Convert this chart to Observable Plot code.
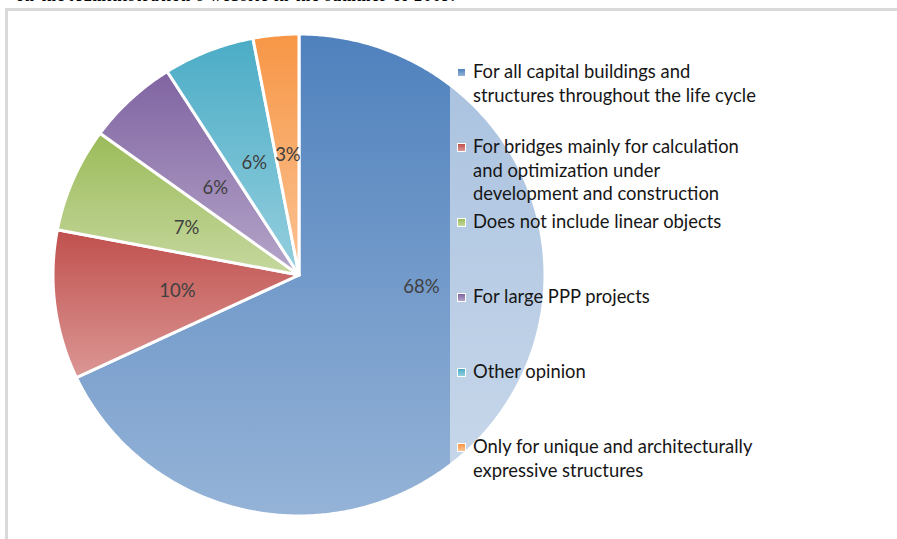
<!DOCTYPE html>
<html>
<head>
<meta charset="utf-8">
<script src="https://cdn.jsdelivr.net/npm/d3@7"></script>
<script src="https://cdn.jsdelivr.net/npm/@observablehq/plot@0.6"></script>
<style>
  html, body { margin: 0; padding: 0; background: #fff; }
  #wrap { position: relative; width: 897px; height: 539px; overflow: hidden; font-family: Lato, "Open Sans", sans-serif; }
  #cut { position: absolute; left: 0; top: 0; width: 456px; height: 4px; overflow: hidden; }
  #cut span { position: absolute; right: 0; top: -13px; white-space: nowrap; font: bold 16px "Liberation Serif", serif; color: #000; letter-spacing: 1.2px; }
  #frame { position: absolute; left: 5px; top: 8px; width: 1000px; height: 1000px; border-left: 3px solid #d9d9d9; border-top: 3px solid #d9d9d9; }
  #chart { position: absolute; left: 0; top: 0; }
  #legend { position: absolute; left: 450px; top: 52px; width: 330px; height: 440px; background: rgba(255,255,255,0.5); }
  .item { position: absolute; left: 23px; font-size: 18.4px; line-height: 23.5px; color: #161616; white-space: nowrap; }
  .sw { position: absolute; left: 8px; width: 7px; height: 7px; outline: 1px solid #fff; }
</style>
</head>
<body>
<div id="wrap">
  <div id="cut"><span>on the Administration's website in the summer of 2009.</span></div>
  <div id="frame"></div>
  <div id="chart"></div>
  <div id="legend"></div>
</div>
<script>
// ---- data ----
const categories = [
  "For all capital buildings and\nstructures throughout the life cycle",
  "For bridges mainly for calculation\nand optimization under\ndevelopment and construction",
  "Does not include linear objects",
  "For large PPP projects",
  "Other opinion",
  "Only for unique and architecturally\nexpressive structures"
];
const shares = [68, 10, 7, 6, 6, 3];
const shareLabels = ["68%", "10%", "7%", "6%", "6%", "3%"];

// ---- styles ----
const colorsTop = ["#4f81bd", "#c0504d", "#9bbb59", "#8064a2", "#4bacc6", "#f79646"];
const colorsBottom = ["#95b3d7", "#db9795", "#c6d89f", "#b5a5c9", "#95cfde", "#fbc394"];
const cx = 299, cy = 275, Rx = 246, Ry = 241;
const labelR = 0.5;

// ---- geometry from data ----
const total = d3.sum(shares);
let acc = 0;
const slices = shares.map((v, i) => {
  const a0 = acc / total * 2 * Math.PI; acc += v;
  const a1 = acc / total * 2 * Math.PI;
  return {i, a0, a1, mid: (a0 + a1) / 2, label: shareLabels[i]};
});
const arcPts = slices.flatMap(s => {
  const n = Math.max(2, Math.ceil((s.a1 - s.a0) / (Math.PI / 360)));
  return d3.range(n + 1).map(k => {
    const a = s.a0 + (s.a1 - s.a0) * k / n;
    return {slice: s.i, x2: Math.sin(a), y2: Math.cos(a)};
  });
});

const defsMark = () => {
  const defs = d3.create("svg:defs");
  colorsTop.forEach((c, i) => {
    const g = defs.append("linearGradient").attr("id", "g" + i)
      .attr("x1", 0).attr("y1", 0).attr("x2", 0).attr("y2", 1);
    g.append("stop").attr("offset", "0%").attr("stop-color", c);
    g.append("stop").attr("offset", "100%").attr("stop-color", colorsBottom[i]);
  });
  return defs.node();
};

const marks = [defsMark];
slices.forEach(s => {
  marks.push(Plot.area(arcPts.filter(d => d.slice === s.i), {
    x1: () => 0, y1: () => 0, x2: "x2", y2: "y2",
    fill: `url(#g${s.i})`, stroke: "#fff", strokeWidth: 3, strokeLinejoin: "round"
  }));
});
const labelFont = {fontSize: 18.5, fill: "#404040", fontFamily: "Lato, 'Open Sans', sans-serif"};
marks.push(Plot.text(slices.filter(s => s.i > 0), {
  x: s => labelR * Math.sin(s.mid), y: s => labelR * Math.cos(s.mid), text: "label", ...labelFont
}));
marks.push(Plot.text(slices.filter(s => s.i === 0), {
  x: s => labelR * Math.sin(s.mid), y: s => labelR * Math.cos(s.mid), text: "label",
  dx: 18, dy: -53, ...labelFont
}));

const chart = Plot.plot({
  width: 897, height: 539, margin: 0,
  x: {domain: [-1, 1], range: [cx - Rx, cx + Rx], axis: null},
  y: {domain: [-1, 1], range: [cy + Ry, cy - Ry], axis: null},
  style: {background: "transparent", overflow: "visible"},
  marks
});
document.getElementById("chart").appendChild(chart);

// ---- legend ----
const legend = document.getElementById("legend");
const legTop = 52, firstY = 72.5, step = 75;
categories.forEach((c, i) => {
  const yc = firstY + i * step - legTop;
  const sw = document.createElement("div");
  sw.className = "sw";
  sw.style.top = (yc - 3.5) + "px";
  sw.style.background = `linear-gradient(${colorsTop[i]}, ${colorsBottom[i]})`;
  legend.appendChild(sw);
  const it = document.createElement("div");
  it.className = "item";
  it.style.top = (yc - 12.5) + "px";
  it.innerHTML = c.split("\n").join("<br>");
  legend.appendChild(it);
});
</script>
</body>
</html>
